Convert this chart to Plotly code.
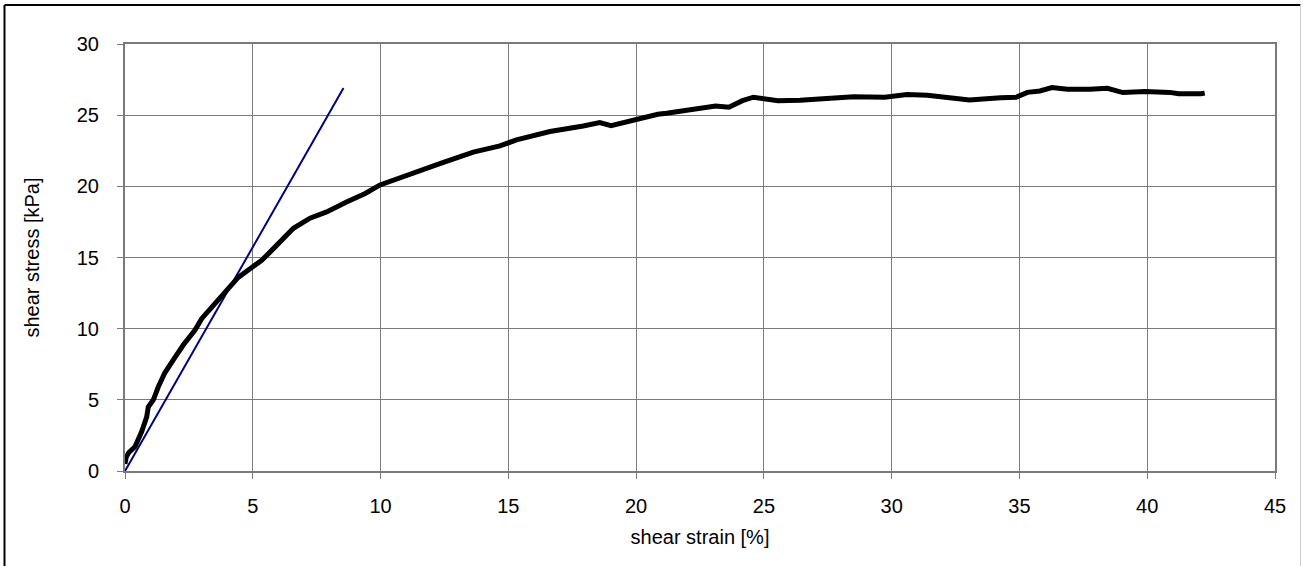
import plotly.graph_objects as go

# Measured shear test curve
strain = [0.0, 0.05, 0.15, 0.39, 0.65, 0.85, 0.91, 1.11, 1.30, 1.56, 1.89, 2.28, 2.74,
          3.00, 3.39, 3.91, 4.43, 4.96, 5.35, 5.74, 6.20, 6.59, 7.24, 7.89, 8.67,
          9.40, 9.98, 11.02, 12.32, 13.63, 14.67, 15.32, 16.63, 17.93, 18.58,
          19.02, 19.94, 20.85, 21.19, 22.07, 23.11, 23.63, 24.16, 24.59, 25.10,
          25.55, 26.42, 27.29, 28.51, 29.73, 30.60, 31.40, 32.00, 33.04, 34.26,
          34.87, 35.31, 35.80, 36.27, 36.88, 37.75, 38.44, 39.05, 39.92, 40.88,
          41.23, 42.10, 42.25]
stress = [0.5, 1.0, 1.3, 1.7, 2.76, 3.8, 4.5, 5.0, 5.9, 6.9, 7.8, 8.85, 9.9,
          10.7, 11.5, 12.6, 13.6, 14.3, 14.8, 15.5, 16.4, 17.05, 17.76, 18.2, 18.9,
          19.5, 20.1, 20.8, 21.6, 22.4, 22.84, 23.26, 23.85, 24.24, 24.48,
          24.27, 24.7, 25.06, 25.13, 25.37, 25.65, 25.56, 26.02, 26.26, 26.12,
          26.02, 26.05, 26.12, 26.30, 26.26, 26.45, 26.40, 26.30, 26.07, 26.23,
          26.26, 26.60, 26.70, 26.94, 26.82, 26.82, 26.89, 26.59, 26.66, 26.60,
          26.50, 26.50, 26.55]

# Initial tangent (shear modulus) line
tangent_strain = [0.0, 8.55]
tangent_stress = [0.0, 26.9]

x_ticks = [0, 5, 10, 15, 20, 25, 30, 35, 40, 45]
y_ticks = [0, 5, 10, 15, 20, 25, 30]

fig = go.Figure()
fig.add_trace(go.Scatter(x=tangent_strain, y=tangent_stress, mode="lines",
                         line=dict(color="#000080", width=2), showlegend=False,
                         hoverinfo="skip"))
fig.add_trace(go.Scatter(x=strain, y=stress, mode="lines",
                         line=dict(color="#000000", width=5), showlegend=False))

font = dict(family="Liberation Sans, Arial, sans-serif", color="#000000")

fig.update_xaxes(range=[0, 45], tickvals=x_ticks, showgrid=True, gridcolor="#7a7a7a",
                 gridwidth=1, zeroline=False, showline=True, linecolor="#7a7a7a",
                 linewidth=2, mirror=True, ticks="outside", ticklen=6,
                 tickcolor="#7a7a7a", tickfont=dict(size=20, **font),
                 ticklabelstandoff=10,
                 title=dict(text="shear strain [%]", font=dict(size=20, **font),
                            standoff=14))
fig.update_yaxes(range=[0, 30], tickvals=y_ticks, showgrid=True, gridcolor="#7a7a7a",
                 gridwidth=1, zeroline=False, showline=True, linecolor="#7a7a7a",
                 linewidth=2, mirror=True, ticks="outside", ticklen=6,
                 tickcolor="#7a7a7a", tickfont=dict(size=20, **font),
                 ticklabelstandoff=14,
                 title=dict(text="shear stress [kPa]", font=dict(size=20, **font),
                            standoff=32))

# Frame around the whole chart
pw, ph = 1150.0, 427.0
def px(xp):
    return (xp - 125) / pw
def py(yp):
    return (471 - yp) / ph

fig.update_layout(
    width=1303, height=566,
    margin=dict(l=125, r=28, t=44, b=95),
    paper_bgcolor="white", plot_bgcolor="white",
    shapes=[
        dict(type="line", xref="paper", yref="paper", x0=px(4.5), x1=px(4.5),
             y0=py(5), y1=py(580), line=dict(color="#000000", width=2)),
        dict(type="line", xref="paper", yref="paper", x0=px(4.5), x1=px(1300.5),
             y0=py(5), y1=py(5), line=dict(color="#000000", width=2)),
        dict(type="line", xref="paper", yref="paper", x0=px(1300.5), x1=px(1300.5),
             y0=py(5), y1=py(580), line=dict(color="#d0d0d0", width=1)),
    ],
)

fig.write_html("out.html")
